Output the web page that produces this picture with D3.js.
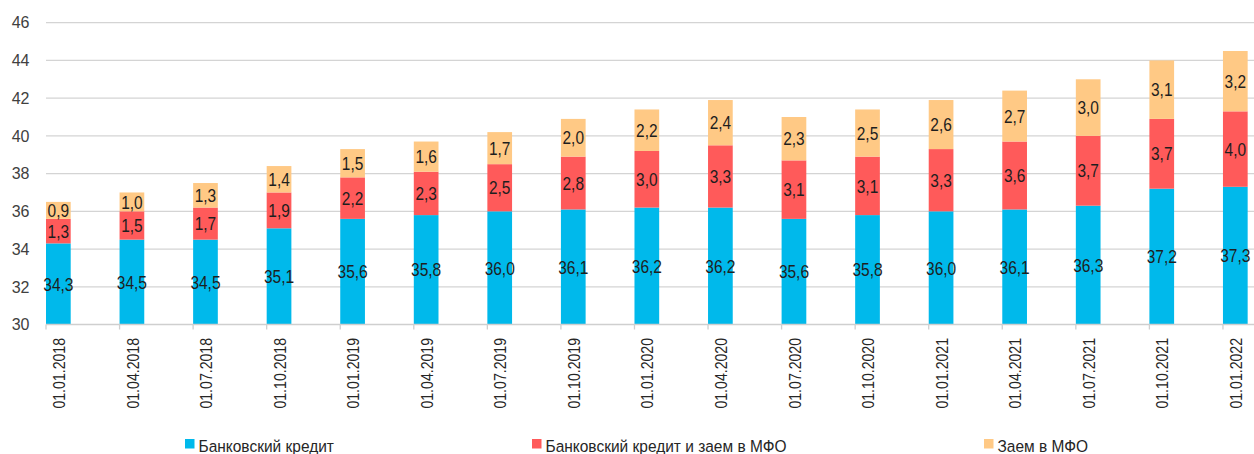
<!DOCTYPE html>
<html><head><meta charset="utf-8">
<script src="https://cdn.jsdelivr.net/npm/d3@7"></script>
<style>
html,body{margin:0;padding:0;background:#fff;}
svg{display:block;}
</style></head>
<body><svg id="c" width="1254" height="454"></svg>
<script>
const categories = ["01.01.2018","01.04.2018","01.07.2018","01.10.2018","01.01.2019","01.04.2019","01.07.2019","01.10.2019","01.01.2020","01.04.2020","01.07.2020","01.10.2020","01.01.2021","01.04.2021","01.07.2021","01.10.2021","01.01.2022"];
const bankCredit = [34.3,34.5,34.5,35.1,35.6,35.8,36.0,36.1,36.2,36.2,35.6,35.8,36.0,36.1,36.3,37.2,37.3];
const bankAndMfo = [1.3,1.5,1.7,1.9,2.2,2.3,2.5,2.8,3.0,3.3,3.1,3.1,3.3,3.6,3.7,3.7,4.0];
const mfoLoan = [0.9,1.0,1.3,1.4,1.5,1.6,1.7,2.0,2.2,2.4,2.3,2.5,2.6,2.7,3.0,3.1,3.2];
const seriesNames = ["Банковский кредит","Банковский кредит и заем в МФО","Заем в МФО"];
const yTicks = [30,32,34,36,38,40,42,44,46];

const colors = ["#00B9EB","#FF5A5A","#FFC985"];
const svg = d3.select("#c");
const W = 1254;
const left = 46, bandW = 73.56;
const x = d3.scaleBand().domain(categories).range([left, left + bandW*categories.length]).paddingInner(0).paddingOuter(0);
const barW = 24.7;
const y = d3.scaleLinear().domain([30,46]).range([324.5, 22.7]);
const FONT = "Liberation Sans, Arial, sans-serif";

// gridlines
svg.append("g").selectAll("line").data(yTicks.slice(1)).join("line")
  .attr("x1", left).attr("x2", W).attr("y1", d=>y(d)).attr("y2", d=>y(d))
  .attr("stroke","#d4d4d4").attr("stroke-width",1.3);

// y labels
svg.append("g").selectAll("text").data(yTicks).join("text")
  .attr("x", 29.5).attr("y", d=>y(d)).attr("dy","0.36em").attr("text-anchor","end")
  .attr("font-family",FONT).attr("font-size",16).attr("fill","#404040")
  .text(d=>d);

// stacked data
const rows = categories.map((c,i)=>({cat:c, v:[bankCredit[i], bankAndMfo[i], mfoLoan[i]]}));
const gBars = svg.append("g");
rows.forEach(r=>{
  let base = 30;
  r.v.forEach((v,k)=>{
    const lo = k===0 ? 30 : base;
    const hi = (k===0 ? 0 : base) + v;
    gBars.append("rect").attr("x", x(r.cat)).attr("width", barW)
      .attr("y", y(hi)).attr("height", y(lo)-y(hi)).attr("fill", colors[k]);
    gBars.append("text")
      .attr("transform", `translate(${x(r.cat)+barW/2},${(y(lo)+y(hi))/2}) scale(0.86,1)`)
      .attr("dy","0.37em")
      .attr("text-anchor","middle").attr("font-family",FONT)
      .attr("font-size",18).attr("fill","#1e1e1e").text(d3.format(".1f")(v).replace(".",","));
    base = hi;
  });
});

// x axis line + ticks
svg.append("line").attr("x1",left).attr("x2",W).attr("y1",y(30)).attr("y2",y(30)).attr("stroke","#cfcfcf").attr("stroke-width",1.5);
svg.append("g").selectAll("line").data(categories).join("line")
  .attr("x1",d=>x(d)).attr("x2",d=>x(d)).attr("y1",y(30)).attr("y2",y(30)+5).attr("stroke","#cfcfcf").attr("stroke-width",1.3);
svg.append("g").selectAll("text").data(categories).join("text")
  .attr("transform",d=>`translate(${x(d)+barW/2+0.5},338) rotate(-90) scale(0.83,1)`)
  .attr("dy","0.36em").attr("text-anchor","end")
  .attr("font-family",FONT).attr("font-size",17).attr("fill","#262626")
  .text(d=>d);

// legend
const legX = [185, 532, 984];
const lg = svg.append("g");
seriesNames.forEach((n,k)=>{
  lg.append("rect").attr("x",legX[k]).attr("y",439).attr("width",9.5).attr("height",9.5).attr("fill",colors[k]);
  lg.append("text").attr("transform",`translate(${legX[k]+13.5},451.5) scale(0.9,1)`)
    .attr("font-family",FONT).attr("font-size",17.2).attr("fill","#262626").text(n);
});
</script></body></html>
